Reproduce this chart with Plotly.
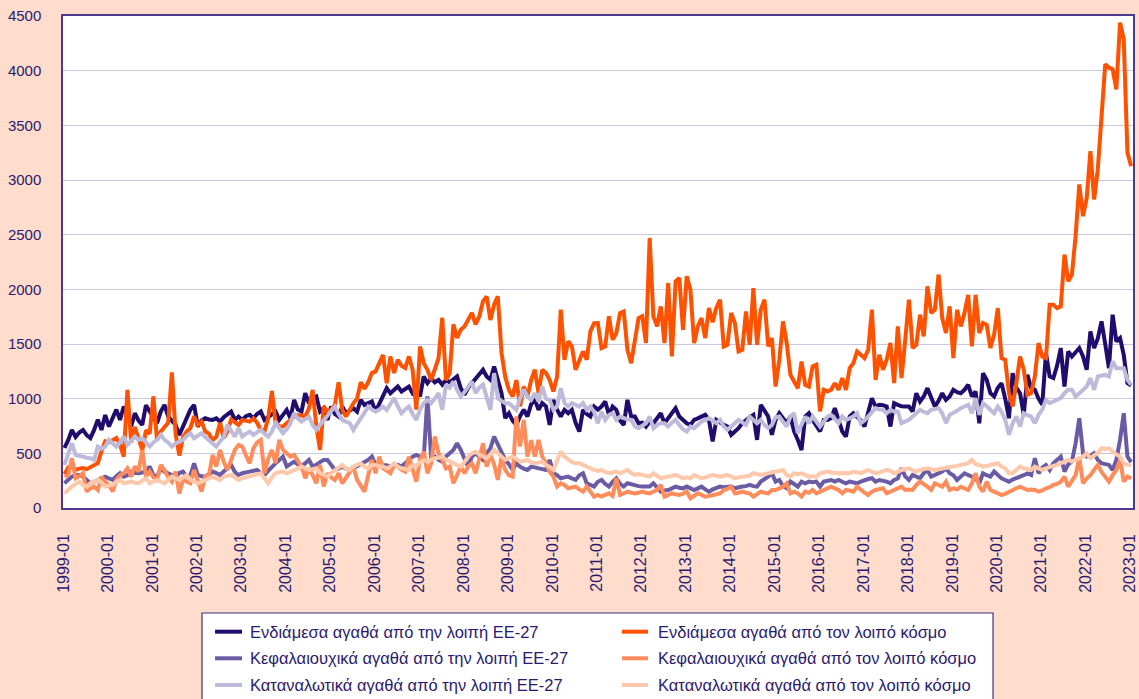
import plotly.graph_objects as go

# monthly values, 1999-01 .. 2023-01 (one row per year)
interm_eu = [
    550, 620, 714, 650, 690, 714, 667, 640, 714, 808, 714, 850,
    745, 820, 900, 806, 928, 860, 745, 867, 800, 760, 940, 882,
    830, 776, 882, 943, 836, 800, 760, 667, 750, 836, 900, 943,
    745, 800, 821, 810, 806, 820, 790, 830, 860, 882, 806, 836,
    806, 840, 852, 821, 860, 882, 806, 830, 852, 882, 806, 850,
    897, 821, 989, 900, 882, 1050, 958, 1000, 1019, 882, 913, 806,
    928, 860, 836, 928, 867, 890, 913, 882, 989, 943, 960, 974,
    882, 950, 1035, 1096, 1050, 1080, 1111, 1066, 1090, 1111, 1050, 1081,
    1020, 1203, 1142, 1188, 1150, 1172, 1127, 1172, 1150, 1172, 1203, 1096,
    1035, 1100, 1142, 1188, 1230, 1264, 1203, 1172, 1295, 1172, 1050, 822,
    867, 800, 760, 840, 898, 837, 950, 989, 898, 959, 930, 760,
    989, 900, 837, 898, 867, 898, 780, 699, 898, 860, 837, 928,
    900, 928, 974, 852, 928, 898, 800, 760, 989, 837, 837, 775,
    780, 745, 791, 775, 820, 867, 775, 820, 867, 913, 837, 800,
    775, 760, 806, 820, 837, 852, 806, 608, 806, 780, 760, 745,
    669, 700, 730, 775, 806, 830, 852, 623, 943, 882, 837, 669,
    806, 867, 820, 776, 837, 700, 623, 531, 837, 867, 806, 745,
    700, 806, 806, 822, 913, 806, 700, 653, 837, 867, 837, 800,
    745, 867, 1004, 928, 944, 940, 928, 745, 959, 944, 930, 928,
    928, 883, 1050, 974, 1020, 1096, 1020, 928, 980, 1050, 989, 1020,
    1081, 1060, 1050, 1081, 1127, 1020, 1066, 775, 1233, 1172, 1050, 1020,
    1100, 1142, 1000, 821, 1233, 1100, 1050, 852, 1218, 1096, 1081, 1000,
    944, 1417, 1203, 1188, 1300, 1463, 1111, 1432, 1386, 1420, 1463, 1386,
    1264, 1615, 1463, 1550, 1707, 1500, 1279, 1768, 1524, 1554, 1400, 1142,
    1120,
]

interm_world = [
    310, 370, 380, 350, 360, 365, 355, 375, 390, 410, 520, 610,
    600, 620, 640, 580, 470, 1080, 600, 740, 620, 530, 710, 680,
    1020, 620, 700, 740, 780, 1240, 680, 480, 650, 700, 730, 840,
    760, 790, 700, 680, 620, 650, 780, 640, 700, 810, 790, 760,
    806, 800, 790, 820, 780, 714, 700, 820, 1070, 776, 745, 745,
    780, 806, 836, 851, 845, 836, 912, 1080, 745, 531, 928, 882,
    900, 943, 1150, 898, 836, 898, 958, 1000, 1150, 1090, 1150, 1234,
    1249, 1325, 1400, 1142, 1386, 1234, 1356, 1300, 1280, 1386, 1264, 900,
    1477, 1325, 1264, 1170, 1280, 1370, 1740, 1170, 1234, 1680, 1555, 1631,
    1660, 1722, 1785, 1680, 1753, 1890, 1935, 1720, 1860, 1935, 1418, 1200,
    1080, 1020, 1170, 930, 1111, 1020, 1170, 1264, 1050, 1264, 1234, 1170,
    1066, 1200, 1815, 1356, 1525, 1478, 1264, 1350, 1432, 1356, 1616, 1690,
    1692, 1463, 1478, 1753, 1539, 1600, 1783, 1798, 1447, 1325, 1539, 1737,
    1753, 1509, 2470, 1753, 1661, 1844, 1509, 2058, 1386, 2073, 2104, 1630,
    2120, 1997, 1509, 1661, 1737, 1554, 1829, 1700, 1829, 1905, 1478, 1493,
    1783, 1692, 1432, 1447, 1798, 1493, 2012, 1493, 1814, 1905, 1478, 1554,
    1111, 1356, 1707, 1508, 1218, 1157, 1096, 1340, 1127, 1111, 1295, 1310,
    883, 1081, 1066, 1081, 1142, 1081, 1188, 1081, 1280, 1325, 1432, 1402,
    1371, 1447, 1814, 1172, 1402, 1264, 1356, 1509, 1142, 1661, 1188, 1539,
    1905, 1463, 1493, 1768, 1570, 2027, 1783, 1814, 2135, 1737, 1600, 1844,
    1371, 1813, 1661, 1783, 1950, 1478, 1950, 1600, 1692, 1676, 1463, 1585,
    1828, 1371, 1356, 1050, 928, 1142, 1386, 1264, 1035, 1050, 1203, 1508,
    1386, 1371, 1860, 1860, 1828, 1844, 2318, 2074, 2135, 2486, 2959, 2669,
    2834, 3264, 2822, 3097, 3585, 4058, 4028, 4013, 3829, 4440, 4287, 3249,
    3127,
]

capital_eu = [
    226, 260, 287, 300, 302, 287, 260, 226, 240, 257, 270, 287,
    270, 257, 290, 318, 287, 300, 333, 320, 318, 330, 333, 379,
    300, 287, 363, 330, 318, 300, 287, 320, 333, 290, 300, 409,
    302, 290, 287, 310, 333, 320, 302, 333, 360, 394, 330, 302,
    318, 330, 333, 340, 348, 320, 302, 340, 379, 410, 440, 470,
    379, 400, 424, 400, 379, 410, 440, 379, 394, 420, 440, 440,
    400, 348, 360, 379, 360, 348, 363, 380, 394, 420, 440, 470,
    394, 394, 394, 390, 379, 385, 394, 379, 410, 440, 470, 485,
    470, 455, 1020, 455, 470, 440, 424, 470, 500, 531, 592, 531,
    450, 378, 470, 501, 470, 440, 500, 546, 654, 580, 516, 440,
    400, 348, 409, 378, 360, 348, 378, 370, 363, 350, 348, 440,
    318, 300, 272, 280, 287, 270, 257, 300, 318, 226, 210, 196,
    240, 257, 220, 196, 240, 272, 220, 196, 226, 215, 211, 200,
    196, 200, 196, 226, 190, 150, 160, 165, 180, 196, 185, 180,
    196, 180, 165, 180, 196, 170, 150, 170, 180, 196, 190, 196,
    196, 180, 190, 196, 200, 211, 200, 196, 242, 260, 287, 318,
    241, 256, 200, 180, 241, 220, 195, 241, 226, 241, 235, 241,
    195, 241, 250, 256, 241, 256, 240, 226, 241, 230, 226, 241,
    256, 265, 272, 241, 256, 250, 241, 226, 256, 270, 363, 290,
    256, 302, 285, 272, 318, 348, 287, 300, 318, 333, 363, 318,
    300, 256, 287, 317, 302, 290, 271, 226, 317, 300, 287, 333,
    300, 271, 256, 241, 260, 271, 287, 300, 317, 302, 455, 317,
    370, 394, 348, 409, 440, 470, 333, 400, 424, 592, 821, 501,
    470, 480, 501, 440, 409, 400, 394, 348, 440, 623, 867, 470,
    420,
]

capital_world = [
    287, 300, 455, 272, 290, 318, 150, 180, 196, 165, 287, 240,
    211, 150, 257, 300, 318, 363, 287, 379, 333, 531, 287, 333,
    280, 257, 394, 348, 280, 241, 333, 134, 257, 240, 226, 348,
    250, 150, 287, 300, 485, 379, 531, 420, 348, 440, 531, 577,
    562, 480, 409, 547, 600, 623, 318, 450, 531, 409, 623, 531,
    500, 470, 485, 430, 379, 272, 363, 300, 226, 394, 196, 318,
    280, 257, 318, 226, 280, 318, 379, 257, 200, 150, 300, 440,
    318, 470, 363, 340, 318, 394, 379, 350, 333, 470, 350, 241,
    440, 516, 318, 409, 654, 500, 440, 363, 378, 226, 300, 378,
    318, 380, 409, 318, 450, 592, 378, 485, 400, 257, 470, 348,
    300, 287, 837, 562, 806, 470, 620, 470, 623, 470, 409, 330,
    287, 196, 226, 210, 180, 190, 196, 170, 150, 196, 150, 104,
    120, 104, 120, 134, 110, 272, 119, 130, 150, 140, 134, 140,
    150, 140, 134, 150, 165, 211, 104, 120, 134, 125, 119, 130,
    150, 89, 110, 134, 120, 104, 110, 119, 125, 134, 165, 175,
    196, 134, 140, 150, 140, 134, 104, 130, 150, 140, 134, 165,
    165, 180, 195, 226, 134, 150, 134, 104, 150, 140, 165, 134,
    150, 165, 180, 195, 180, 165, 134, 165, 160, 150, 195, 165,
    140, 119, 150, 165, 170, 180, 134, 150, 165, 180, 195, 165,
    170, 165, 211, 241, 220, 195, 165, 226, 210, 195, 241, 165,
    180, 170, 195, 180, 165, 226, 317, 195, 150, 241, 165, 150,
    134, 119, 130, 150, 165, 180, 195, 180, 165, 170, 165, 150,
    160, 180, 190, 211, 220, 241, 287, 195, 256, 300, 455, 226,
    271, 300, 348, 394, 330, 287, 241, 300, 348, 440, 241, 287,
    271,
]

consumer_eu = [
    394, 500, 592, 485, 480, 470, 460, 455, 440, 562, 540, 562,
    623, 590, 562, 600, 653, 577, 620, 653, 623, 638, 600, 562,
    600, 623, 669, 623, 600, 562, 590, 608, 623, 660, 684, 638,
    660, 684, 650, 623, 590, 562, 608, 650, 760, 700, 653, 730,
    653, 680, 699, 669, 690, 714, 680, 653, 700, 776, 730, 684,
    720, 776, 867, 820, 791, 810, 836, 760, 714, 760, 800, 836,
    880, 928, 860, 806, 790, 776, 714, 760, 821, 870, 928, 900,
    882, 900, 928, 897, 950, 1005, 930, 867, 900, 928, 860, 806,
    898, 959, 989, 959, 1000, 1050, 898, 1127, 1100, 1157, 1081, 1020,
    1060, 1111, 1157, 1050, 1100, 1127, 1020, 898, 1234, 1005, 980, 959,
    959, 930, 898, 1005, 1081, 1020, 989, 1050, 974, 1111, 1000, 989,
    898, 928, 1096, 960, 928, 959, 940, 928, 959, 898, 928, 880,
    775, 882, 806, 850, 867, 806, 837, 821, 810, 806, 745, 730,
    750, 775, 837, 730, 760, 775, 775, 745, 780, 806, 760, 720,
    699, 745, 730, 760, 790, 806, 821, 800, 775, 806, 745, 715,
    740, 775, 806, 780, 760, 837, 800, 775, 806, 760, 730, 760,
    830, 837, 790, 745, 837, 867, 684, 760, 837, 776, 837, 790,
    745, 791, 837, 852, 820, 776, 837, 806, 820, 837, 867, 776,
    800, 837, 867, 913, 900, 898, 867, 898, 883, 883, 776, 790,
    806, 837, 867, 898, 880, 867, 898, 905, 913, 867, 776, 852,
    867, 890, 913, 930, 944, 867, 1005, 852, 959, 930, 898, 867,
    928, 880, 806, 669, 775, 837, 745, 867, 850, 837, 775, 852,
    900, 989, 959, 974, 990, 1005, 1050, 1081, 1081, 1020, 1050, 1080,
    1111, 1188, 1081, 1203, 1210, 1218, 1203, 1340, 1279, 1279, 1279, 1172,
    1127,
]

consumer_world = [
    134, 170, 196, 220, 241, 210, 196, 226, 240, 257, 230, 196,
    205, 211, 240, 257, 226, 235, 241, 230, 226, 250, 272, 226,
    240, 257, 240, 226, 260, 287, 270, 257, 280, 302, 257, 240,
    226, 240, 257, 270, 287, 270, 257, 287, 295, 302, 280, 257,
    272, 280, 287, 302, 310, 318, 270, 226, 280, 318, 330, 333,
    318, 330, 348, 360, 379, 360, 348, 355, 363, 318, 300, 287,
    320, 348, 370, 394, 360, 348, 379, 390, 409, 380, 363, 394,
    394, 380, 379, 363, 380, 409, 380, 363, 355, 348, 394, 385,
    420, 440, 424, 440, 455, 460, 470, 440, 424, 409, 390, 378,
    420, 470, 500, 516, 490, 470, 455, 490, 531, 500, 470, 440,
    455, 470, 450, 424, 430, 440, 420, 409, 415, 424, 390, 378,
    348, 430, 516, 470, 440, 420, 409, 409, 395, 378, 360, 348,
    340, 348, 330, 318, 325, 333, 318, 330, 348, 320, 302, 310,
    302, 295, 287, 318, 300, 272, 280, 287, 295, 302, 290, 272,
    280, 272, 302, 285, 272, 280, 287, 302, 295, 287, 295, 302,
    290, 272, 280, 287, 287, 295, 318, 310, 302, 310, 318, 333,
    333, 340, 348, 300, 287, 318, 310, 318, 300, 287, 290, 287,
    318, 325, 333, 325, 318, 318, 320, 318, 318, 333, 325, 318,
    335, 348, 330, 318, 325, 333, 348, 340, 318, 330, 348, 355,
    363, 345, 333, 348, 355, 363, 355, 348, 355, 363, 370, 379,
    379, 385, 394, 400, 409, 440, 400, 394, 379, 385, 394, 400,
    409, 379, 363, 317, 317, 348, 379, 363, 355, 348, 379, 360,
    348, 363, 379, 385, 394, 409, 420, 440, 424, 440, 455, 470,
    501, 455, 480, 501, 546, 540, 546, 516, 490, 470, 409, 394,
    390,
]

months = [f"{y}-{m:02d}" for y in range(1999, 2023) for m in range(1, 13)] + ["2023-01"]

TEXT = "#2A1A6E"
FRAME = "#4B3B8E"

series = [
    ("Ενδιάμεσα αγαθά από την λοιπή ΕΕ-27", interm_eu, "#200C6C"),
    ("Ενδιάμεσα αγαθά από τον λοιπό κόσμο", interm_world, "#FF5200"),
    ("Κεφαλαιουχικά αγαθά από την λοιπή ΕΕ-27", capital_eu, "#6A5BA5"),
    ("Κεφαλαιουχικά αγαθά από τον λοιπό κόσμο", capital_world, "#FF8C5A"),
    ("Καταναλωτικά αγαθά από την λοιπή ΕΕ-27", consumer_eu, "#BEBAD9"),
    ("Καταναλωτικά αγαθά από τον λοιπό κόσμο", consumer_world, "#FFC8AA"),
]

fig = go.Figure()
for name, vals, color in series:
    fig.add_trace(go.Scatter(
        x=months[:len(vals)], y=vals, name=name, mode="lines",
        line=dict(color=color, width=4), showlegend=False,
    ))

# legend box drawn by hand (2 columns x 3 rows), running off the bottom edge
fig.add_shape(
    type="rect", xref="paper", yref="paper", layer="above",
    x0=0.1299, x1=0.8692, y0=-0.45, y1=-0.2134,
    line=dict(color="#3C2D85", width=1.2), fillcolor="white",
)
col_x = [(0.1421, 0.1673, 0.1729), (0.5224, 0.5467, 0.5542)]
row_y = [-0.2514, -0.3055, -0.3598]
for k, (name, _, color) in enumerate(series):
    x0, x1, xt = col_x[k % 2]
    y = row_y[k // 2]
    fig.add_shape(
        type="line", xref="paper", yref="paper", layer="above",
        x0=x0, x1=x1, y0=y, y1=y, line=dict(color=color, width=4),
    )
    fig.add_annotation(
        xref="paper", yref="paper", x=xt, y=y, text=name, showarrow=False,
        xanchor="left", yanchor="middle", font=dict(size=16.5, color=TEXT),
    )

fig.update_layout(
    width=1139, height=699,
    paper_bgcolor="#FFDCCC", plot_bgcolor="white",
    margin=dict(l=63, r=6, t=16, b=191),
    font=dict(family="Liberation Sans, Arial, sans-serif", color=TEXT, size=15),
    showlegend=False,
)
fig.update_xaxes(
    type="category", tickmode="array", tickvals=months[::12], tickangle=-90,
    range=[-0.4, len(months) - 0.5], showgrid=False, automargin=False,
    showline=True, mirror=True, linecolor=FRAME, linewidth=1.5,
    tickfont=dict(size=16, color=TEXT), ticklabelstandoff=18, ticklabelshift=-1,
)
fig.update_yaxes(
    range=[0, 4500], dtick=500, gridcolor="#C9C5E2", gridwidth=1.2, automargin=False,
    zeroline=False, showline=True, mirror=True, linecolor=FRAME, linewidth=1.5,
    tickfont=dict(size=15, color=TEXT), ticklabelstandoff=17,
)

# the page would otherwise add the browser's default 8px body margin
fig.write_html(
    "out.html",
    config={"displayModeBar": False},
    post_script="document.body.style.margin='0';",
)
